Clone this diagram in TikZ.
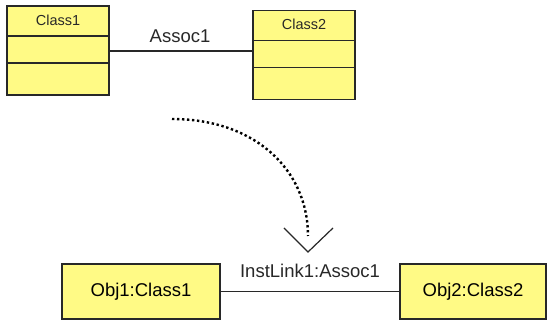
\documentclass[tikz,border=0pt]{standalone}
\usepackage{fontspec}
\setmainfont{Liberation Sans}
\usepackage{xcolor}
\usetikzlibrary{calc,positioning}
\definecolor{umlyellow}{RGB}{255,250,133}
\definecolor{umlline}{RGB}{40,40,40}
\tikzset{
  classbox/.style={draw=umlline,line width=1.8pt,fill=umlyellow,rectangle,inner sep=0pt,
    minimum width=102pt,minimum height=89pt},
  objbox/.style={draw=umlline,line width=1.8pt,fill=umlyellow,rectangle,inner sep=0pt,
    minimum height=55pt,font=\fontsize{18.5}{20}\selectfont},
  ctitle/.style={font=\fontsize{14.5}{16}\selectfont,text=umlline},
  lbl/.style={font=\fontsize{18.5}{20}\selectfont,text=umlline}
}
\begin{document}
\begin{tikzpicture}[x=1pt,y=-1pt]
\useasboundingbox[fill=white] (0,0) rectangle (547,320);
% classes
\node[classbox] (class1) at (58,50.5) {};
\node[classbox] (class2) at (304,55) {};
\foreach \c/\t in {class1/Class1,class2/Class2}{
  \node[ctitle] (\c-title) at ($(\c.north)+(0,15)$) {\t};
  \draw[umlline,line width=1.8pt] ($(\c.north west)+(0,31)$) -- ($(\c.north east)+(0,31)$);
  \draw[umlline,line width=1.8pt] ($(\c.north west)+(0,58)$) -- ($(\c.north east)+(0,58)$);
}
\coordinate (a1) at ($(class1.east)+(0,0.5)$);
\draw[umlline,line width=1.3pt] (a1) -- (a1 -| class2.west);
\node[lbl] (assoc) at (180,36) {Assoc1};
% instance-of arrow
\coordinate (arrstart) at (172,119);
\coordinate (arrend) at (308,236);
\coordinate (arrtip) at (308,252);
\draw[line width=2.4pt,dash pattern=on 2.4pt off 2.6pt] (arrstart) .. controls (255,119) and (308,170) .. (arrend);
\draw[umlline,line width=1.2pt] (284,228) -- (arrtip) -- (333,228);
% objects
\node[objbox,minimum width=158pt] (obj1) at (141,291.5) {Obj1:Class1};
\node[objbox,minimum width=146pt] (obj2) at (473,291.5) {Obj2:Class2};
\draw[umlline,line width=1.3pt] (obj1.east) -- (obj2.west);
\node[lbl] (link) at (310,271) {InstLink1:Assoc1};
\end{tikzpicture}
\end{document}
